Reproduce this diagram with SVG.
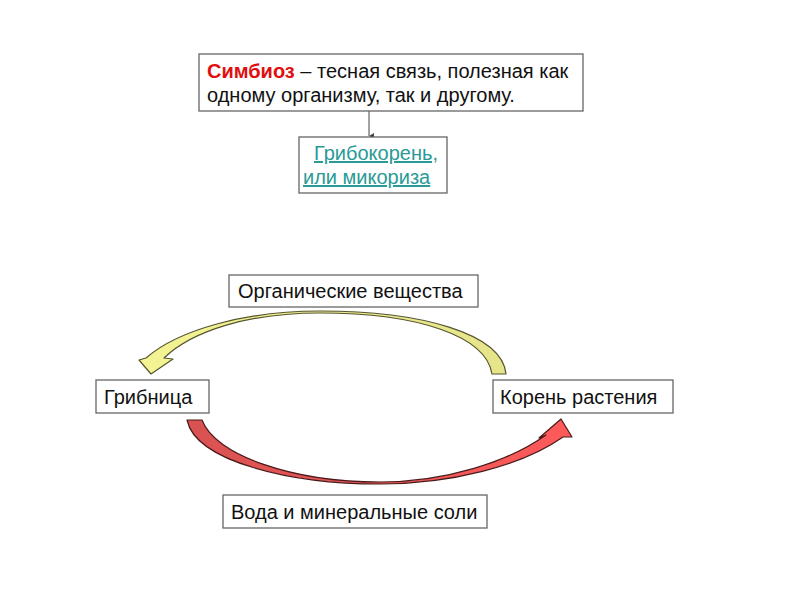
<svg xmlns="http://www.w3.org/2000/svg" width="800" height="600" viewBox="0 0 800 600">
<style>
.box{fill:#fff;stroke:#666;stroke-width:1.3}
.t{font-family:"Liberation Sans",Arial,sans-serif;font-size:20px;fill:#111}
.link{fill:#2a9a96;text-decoration:underline}
</style>
<defs>
<marker id="ah" markerWidth="8" markerHeight="8" refX="4" refY="6" orient="auto-start-reverse" markerUnits="userSpaceOnUse">
<path d="M1,1 L4,6 L7,1 Z" fill="#444"/>
</marker>
<linearGradient id="gy" x1="0" y1="0" x2="1" y2="0">
<stop offset="0" stop-color="#f4f494"/>
<stop offset="1" stop-color="#e6e48a"/>
</linearGradient>
<linearGradient id="gr" x1="0" y1="0" x2="1" y2="0">
<stop offset="0" stop-color="#d85252"/>
<stop offset="1" stop-color="#ff5a5a"/>
</linearGradient>
</defs>
<rect width="800" height="600" fill="#fff"/>
<g id="connectors">
<line x1="369" y1="111" x2="369" y2="136" stroke="#444" stroke-width="1" marker-end="url(#ah)"/>
<path id="arrow-organic" d="M506,374 C502,333 420,311 320,311 C245,311 178,330 146,358 L139,360 L151,374 L173,359 L164,358 C192,331 248,313 320,313 C418,313 486,336 492,374 Z" fill="url(#gy)" stroke="#555530" stroke-width="1.2" stroke-linejoin="round"/>
<path id="arrow-water" d="M187,420 C196,462 292,484 380,484 C450,484 522,466 563,437 L572,437 L561,419 L539,438 L546,435 C508,462 445,482 380,482 C292,482 215,455 202,420 Z" fill="url(#gr)" stroke="#4a1a1a" stroke-width="1.2" stroke-linejoin="round"/>
</g>
<g id="symbiosis">
<rect class="box" x="199" y="54" width="384" height="57"/>
<text class="t" x="207" y="78"><tspan fill="#e01010" font-weight="bold">Симбиоз</tspan> – тесная связь, полезная как</text>
<text class="t" x="207" y="102">одному организму, так и другому.</text>
</g>
<g id="mycorrhiza">
<rect class="box" x="299" y="137" width="148" height="56"/>
<text class="t link" x="314" y="160">Грибокорень,</text>
<text class="t link" x="303" y="184">или микориза</text>
</g>
<g id="organic">
<rect class="box" x="229" y="275" width="249" height="32"/>
<text class="t" x="238" y="298">Органические вещества</text>
</g>
<g id="mycelium">
<rect class="box" x="96" y="380" width="113" height="33"/>
<text class="t" x="104" y="404">Грибница</text>
</g>
<g id="root">
<rect class="box" x="493" y="380" width="180" height="33"/>
<text class="t" x="500" y="404">Корень растения</text>
</g>
<g id="water">
<rect class="box" x="223" y="495" width="264" height="33"/>
<text class="t" x="231" y="519">Вода и минеральные соли</text>
</g>
</svg>
